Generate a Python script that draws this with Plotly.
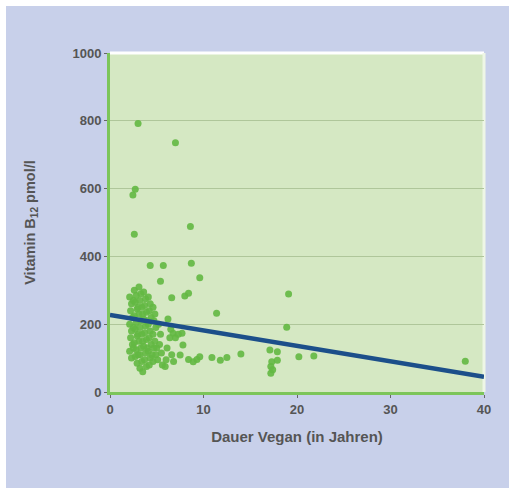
import plotly.graph_objects as go

# Scatter data: duration vegan (years) vs vitamin B12 (pmol/l)
years = [
    3.0, 7.0, 2.7, 2.45, 2.6, 8.6, 4.3, 5.7, 8.7, 9.6, 5.4, 6.6, 8.0, 8.4, 11.4,
    19.1, 18.9, 38.0, 20.2, 21.8, 14.0, 17.1, 17.9, 17.3, 17.2, 17.2, 17.9, 17.4,
    7.5, 8.4, 9.3, 9.6, 10.9, 11.8, 12.5, 8.9, 7.8, 6.75, 7.7,
    2.1, 2.3, 2.2, 2.4, 2.1, 2.3, 2.2, 2.4, 2.1, 2.3,
    2.6, 2.8, 2.7, 2.9, 2.6, 2.8, 2.7, 2.9, 2.6, 2.8, 2.7, 2.9,
    3.1, 3.3, 3.2, 3.4, 3.1, 3.3, 3.2, 3.4, 3.1, 3.3, 3.2, 3.4, 3.2,
    3.6, 3.8, 3.7, 3.9, 3.6, 3.8, 3.7, 3.9, 3.6, 3.8, 3.7, 3.9, 3.5,
    4.1, 4.3, 4.2, 4.4, 4.1, 4.3, 4.2, 4.4, 4.1, 4.3, 4.2,
    4.6, 4.8, 4.7, 4.9, 4.6, 4.8, 4.7, 4.9, 4.6,
    5.2, 5.4, 5.3, 5.5, 5.1, 5.6, 5.9, 6.0,
    6.2, 6.4, 6.1, 6.6, 6.8, 7.0, 7.3, 6.5,
    2.5, 3.0, 3.5, 4.0, 2.5, 3.0, 3.5, 4.0, 2.5, 3.0, 4.5, 5.0,
]
b12 = [
    792, 735, 598, 581, 465, 488, 373, 373, 380, 337, 327, 278, 283, 291, 232,
    289, 191, 91, 104, 106, 112, 124, 119, 89, 75, 55, 94, 66,
    109, 96, 96, 104, 102, 94, 102, 89, 139, 173, 173,
    280, 260, 240, 220, 200, 180, 160, 140, 120, 100,
    300, 285, 265, 245, 225, 205, 185, 165, 145, 125, 105, 85,
    310, 290, 270, 250, 230, 210, 190, 170, 150, 130, 110, 90, 70,
    295, 275, 255, 235, 215, 195, 175, 155, 135, 115, 95, 75, 60,
    280, 260, 240, 220, 200, 180, 160, 140, 120, 100, 80,
    250, 230, 210, 190, 170, 150, 130, 110, 90,
    200, 170, 140, 115, 95, 80, 75, 95,
    215, 160, 130, 110, 90, 160, 170, 185,
    270, 250, 230, 210, 190, 170, 150, 130, 130, 110, 110, 130,
]

# Regression line endpoints
fit_x = [0, 40]
fit_y = [227, 45]

x_ticks = [0, 10, 20, 30, 40]
y_ticks = [0, 200, 400, 600, 800, 1000]

LAV = "#c8d0ea"
fig = go.Figure()
fig.add_trace(go.Scatter(
    x=years, y=b12, mode="markers",
    marker=dict(size=7, color="#63b842", opacity=0.9, line=dict(width=0)),
    showlegend=False, cliponaxis=False,
))
fig.add_trace(go.Scatter(
    x=fit_x, y=fit_y, mode="lines",
    line=dict(color="#1c4f8a", width=4.5),
    showlegend=False,
))

W, H = 509, 488
L, R, T, B = 110, 25, 53, 96
pw, ph = W - L - R, H - T - B

fig.update_layout(
    width=W, height=H,
    margin=dict(l=L, r=R, t=T, b=B),
    paper_bgcolor=LAV,
    plot_bgcolor="#d5e8c3",
    font=dict(family="Liberation Sans, Arial, sans-serif", color="#4a4a4a", size=12),
    xaxis=dict(
        range=[0, 40], tickvals=x_ticks, ticktext=[f"<b>{v}</b>" for v in x_ticks],
        showgrid=False, zeroline=False,
        showline=True, linecolor="#7cc55a", linewidth=3,
        ticks="outside", ticklen=3, tickcolor="#666", tickwidth=1,
        tickfont=dict(size=13, color="#555"),
        title=dict(text="<b>Dauer Vegan (in Jahren)</b>", font=dict(size=15, color="#555"), standoff=16),
        automargin=False,
    ),
    yaxis=dict(
        range=[0, 1000], tickvals=y_ticks, ticktext=[f"<b>{v}</b>" for v in y_ticks],
        showgrid=True, gridcolor="#afc69a", gridwidth=1,
        zeroline=False,
        showline=True, linecolor="#7cc55a", linewidth=3,
        ticks="outside", ticklen=3, tickcolor="#666", tickwidth=1,
        tickfont=dict(size=13, color="#555"),
        title=dict(text="<b>Vitamin B<sub>12</sub> pmol/l</b>", font=dict(size=14.5, color="#555"), standoff=34),
        automargin=False,
    ),
    shapes=[
        # white frame strips of the image (top and left)
        dict(type="rect", xref="paper", yref="paper", x0=-0.6, x1=1.3,
             y0=(ph + T - 6) / ph, y1=1.5, fillcolor="white", line=dict(width=0), layer="below"),
        dict(type="rect", xref="paper", yref="paper", x0=-0.6, x1=(6 - L) / pw,
             y0=-0.5, y1=1.5, fillcolor="white", line=dict(width=0), layer="below"),
        # white plot border on top and right
        dict(type="line", xref="paper", yref="paper", x0=0, x1=1, y0=1, y1=1,
             line=dict(color="white", width=3), layer="below"),
        dict(type="line", xref="paper", yref="paper", x0=1, x1=1, y0=0, y1=1,
             line=dict(color="#eef6e6", width=3), layer="below"),
    ],
)

fig.write_html(
    "out.html",
    config={"displayModeBar": False},
    post_script="document.body.style.margin='0';document.body.style.overflow='hidden';",
)
